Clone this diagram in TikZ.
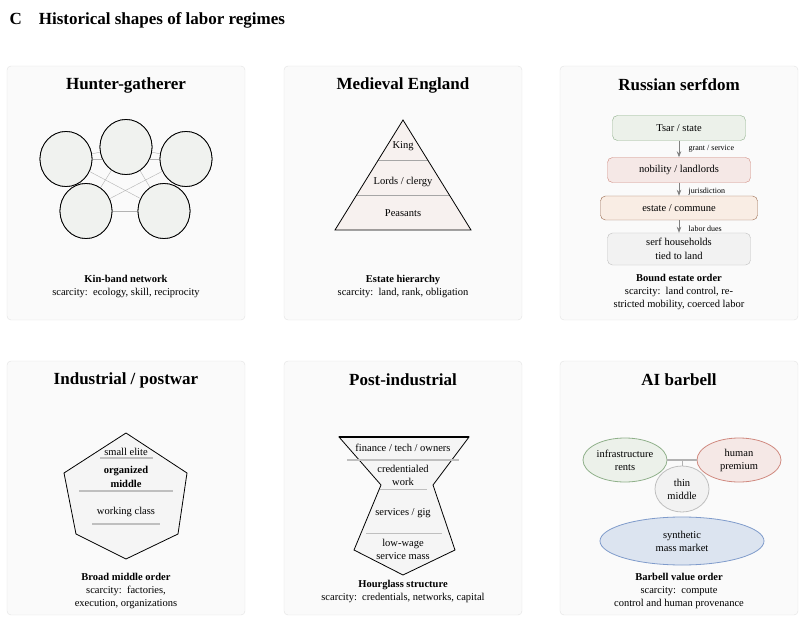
\documentclass[tikz,border=0pt]{standalone}
\usepackage{fontspec}
\setmainfont{Liberation Serif}
\usepackage{tikz}
\usetikzlibrary{shapes,arrows,arrows.meta,positioning}
\definecolor{panelfill}{HTML}{FAFAFA}
\definecolor{panelline}{HTML}{E2E2E2}
\definecolor{greenline}{HTML}{8FB08A}
\definecolor{greenfill}{HTML}{ECF1EA}
\definecolor{bandfill}{HTML}{F0F2EF}
\definecolor{redline}{HTML}{D0897F}
\definecolor{redfill}{HTML}{F5E8E6}
\definecolor{brownline}{HTML}{9A6A4E}
\definecolor{brownfill}{HTML}{F9EDE4}
\definecolor{blueline}{HTML}{7F9BCB}
\definecolor{bluefill}{HTML}{DCE4F0}
\definecolor{pyrfill}{HTML}{F7F1EF}
\tikzstyle{panel} = [draw=panelline, fill=panelfill, rounded corners=4pt]
\tikzstyle{ptitle} = [font=\fontsize{17}{20}\selectfont\bfseries]
\tikzstyle{caption} = [font=\fontsize{10.5}{13}\selectfont, align=center]
\tikzstyle{band} = [draw=black, thick, fill=bandfill, ellipse, minimum width=52pt, minimum height=55pt, inner sep=0pt]
\tikzstyle{sbox} = [rectangle, rounded corners=5pt, minimum width=133pt, minimum height=25pt, text centered, font=\fontsize{10.5}{13}\selectfont, align=center]
\tikzstyle{slabel} = [font=\fontsize{8}{9}\selectfont, anchor=west, text=black]
\tikzstyle{flowArrow} = [thick, gray, -{Stealth[length=6pt]}]
\tikzstyle{sep} = [gray!50, line width=1.2pt]
\tikzstyle{txt} = [font=\fontsize{10.5}{13}\selectfont, align=center]
\begin{document}
\begin{tikzpicture}[x=1pt,y=-1pt]
		\useasboundingbox (0,0) rectangle (804,623);
		\node[anchor=west, font=\fontsize{17}{20}\selectfont\bfseries] (heading) at (6,20) {C\quad Historical shapes of labor regimes};
		%panels
		\foreach \px in {7,284,560}
			\foreach \py in {66,361}
				\draw[panel] (\px,\py) rectangle ++(238,254);
		
		%hunter-gatherer
		\node[ptitle] (t1) at (126,85) {Hunter-gatherer};
		\node[band] (b1) at (66,159) {};
		\node[band] (b2) at (126,147) {};
		\node[band] (b3) at (186,159) {};
		\node[band] (b4) at (86,211) {};
		\node[band] (b5) at (164,211) {};
		\foreach \a/\b in {1/2,2/3,1/5,3/4,4/5,2/4,2/5,1/4,3/5,1/3}
			\draw[gray!60] (b\a) -- (b\b);
		\foreach \i in {1,...,5} \node[band] at (b\i) {};
		\node[caption] (c1) at (126,286) {\textbf{Kin-band network}\\scarcity:\, ecology, skill, reciprocity};
		
		%medieval
		\node[ptitle] (t2) at (403,85) {Medieval England};
		\coordinate (apex) at (403,120);
		\coordinate (bl) at (335,230);
		\coordinate (br) at (471,230);
		\fill[pyrfill] (apex) -- (br) -- (bl) -- cycle;
		\draw[gray!70, thick] (378,160) -- (428,160);
		\draw[gray!70, thick] (356,195) -- (450,195);
		\draw[thick] (apex) -- (br) -- (bl) -- cycle;
		\node[txt] (king) at (403,146) {King};
		\node[txt] (lords) at (403,182) {Lords / clergy};
		\node[txt] (peas) at (403,213) {Peasants};
		\node[caption] (c2) at (403,286) {\textbf{Estate hierarchy}\\scarcity:\, land, rank, obligation};
		
		%russian serfdom
		\node[ptitle] (t3) at (679,85) {Russian serfdom};
		\node[sbox, draw=greenline, fill=greenfill] (tsar) at (679,128) {Tsar / state};
		\node[sbox, draw=redline, fill=redfill, minimum width=143pt] (nobility) at (679,170) {nobility / landlords};
		\node[sbox, draw=brownline, fill=brownfill, minimum width=157pt, minimum height=24pt] (estate) at (679,208) {estate / commune};
		\node[sbox, draw=gray!50, fill=gray!10, minimum width=143pt, minimum height=32pt, font=\fontsize{10.5}{14}\selectfont] (serf) at (679,249) {serf households\\tied to land};
		\draw[flowArrow] (tsar) -- (nobility) node[slabel, midway, right=6pt] {grant / service};
		\draw[flowArrow] (nobility) -- (estate) node[slabel, midway, right=6pt, yshift=-2pt] {jurisdiction};
		\draw[flowArrow] (estate) -- (serf) node[slabel, midway, right=6pt, yshift=-2pt] {labor dues};
		\node[caption] (c3) at (679,292) {\textbf{Bound estate order}\\scarcity:\, land control, re-\\stricted mobility, coerced labor};
		
		%industrial
		\node[ptitle] (t4) at (126,380) {Industrial / postwar};
		\draw[thick, fill=gray!8] (126,433) -- (187,473) -- (178,534) -- (126,559) -- (76,534) -- (64,473) -- cycle;
		\node[txt] (elite) at (126,452) {small elite};
		\draw[sep] (100,458) -- (153,458);
		\node[txt, font=\fontsize{10.5}{14}\selectfont\bfseries] (middle) at (126,477) {organized\\middle};
		\draw[sep] (79,491) -- (173,491);
		\node[txt] (working) at (126,512) {working class};
		\draw[sep] (92,524) -- (160,524);
		\node[caption] (c4) at (126,591) {\textbf{Broad middle order}\\scarcity:\, factories,\\execution, organizations};
		
		%post-industrial
		\node[ptitle] (t5) at (403,380) {Post-industrial};
		\draw[thick, fill=gray!8] (339,437) -- (469,437) -- (433,485) -- (455,550) -- (403,575) -- (354,550) -- (381,485) -- cycle;
		\draw[line width=1.8pt] (339,437) -- (469,437);
		\node[txt] (finance) at (403,448) {finance / tech / owners};
		\draw[sep] (347,460) -- (459,460);
		\node[txt] (cred) at (403,475) {credentialed\\work};
		\draw[sep, thin] (380,489) -- (427,489);
		\node[txt] (serv) at (403,513) {services / gig};
		\draw[sep, thin] (366,533) -- (442,533);
		\node[txt] (lowwage) at (403,549) {low-wage\\service mass};
		\node[caption] (c5) at (403,591) {\textbf{Hourglass structure}\\scarcity:\, credentials, networks, capital};
		
		%ai barbell
		\node[ptitle] (t6) at (679,380) {AI barbell};
		\node[ellipse, draw=greenline, fill=greenfill, thick, minimum width=84pt, minimum height=44pt, inner sep=0pt, txt] (infra) at (625,460) {infrastructure\\rents};
		\node[ellipse, draw=redline, fill=redfill, thick, minimum width=84pt, minimum height=44pt, inner sep=0pt, txt] (human) at (739,460) {human\\premium};
		\node[ellipse, draw=gray!50, fill=gray!10, thick, minimum width=54pt, minimum height=46pt, inner sep=0pt, txt] (thin) at (682,489) {thin\\middle};
		\draw[gray!60, line width=2pt] (infra) -- (human);
		\draw[gray!60] (682,460) -- (thin);
		\node[ellipse, draw=blueline, fill=bluefill, thick, minimum width=164pt, minimum height=48pt, inner sep=0pt, txt] (synth) at (682,541) {synthetic\\mass market};
		\node[caption] (c6) at (679,591) {\textbf{Barbell value order}\\scarcity:\, compute\\control and human provenance};
	\end{tikzpicture}
\end{document}
